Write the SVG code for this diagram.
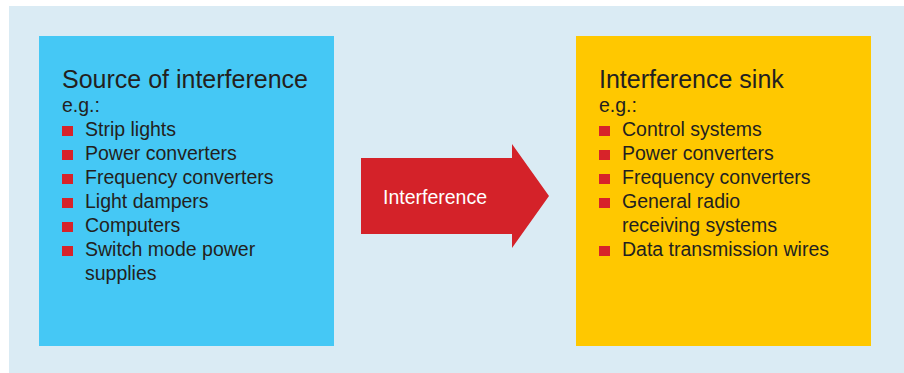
<svg xmlns="http://www.w3.org/2000/svg" width="904" height="373" viewBox="0 0 904 373">
<style>
.t{font-family:"Liberation Sans",Arial,sans-serif;fill:#231f20}
.h{font-size:25px}
.i{font-size:19.5px}
.b{fill:#d7232a}
</style>
<rect x="0" y="0" width="904" height="373" fill="#ffffff"/>
<rect x="9" y="6" width="895" height="367" fill="#daebf4"/>
<g id="source">
<rect x="39" y="36" width="295" height="310" fill="#45c8f5"/>
<text class="t h" x="62" y="88">Source of interference</text>
<text class="t i" x="62" y="112">e.g.:</text>
<rect class="b" x="62" y="126" width="11" height="10"/>
<rect class="b" x="62" y="150" width="11" height="10"/>
<rect class="b" x="62" y="174" width="11" height="10"/>
<rect class="b" x="62" y="198" width="11" height="10"/>
<rect class="b" x="62" y="222" width="11" height="10"/>
<rect class="b" x="62" y="246" width="11" height="10"/>
<text class="t i" x="85" y="136">Strip lights</text>
<text class="t i" x="85" y="160">Power converters</text>
<text class="t i" x="85" y="184">Frequency converters</text>
<text class="t i" x="85" y="208">Light dampers</text>
<text class="t i" x="85" y="232">Computers</text>
<text class="t i" x="85" y="256">Switch mode power</text>
<text class="t i" x="85" y="280">supplies</text>
</g>
<g id="connectors">
<g id="interference">
<polygon points="361,158 512,158 512,144 549,196 512,248 512,234 361,234" fill="#d42229"/>
<text x="383" y="204" style="font-family:'Liberation Sans',Arial,sans-serif;font-size:19.5px;fill:#ffffff">Interference</text>
</g>
</g>
<g id="sink">
<rect x="576" y="36" width="295" height="310" fill="#ffc800"/>
<text class="t h" x="599" y="88">Interference sink</text>
<text class="t i" x="599" y="112">e.g.:</text>
<rect class="b" x="599" y="126" width="11" height="10"/>
<rect class="b" x="599" y="150" width="11" height="10"/>
<rect class="b" x="599" y="174" width="11" height="10"/>
<rect class="b" x="599" y="198" width="11" height="10"/>
<rect class="b" x="599" y="246" width="11" height="10"/>
<text class="t i" x="622" y="136">Control systems</text>
<text class="t i" x="622" y="160">Power converters</text>
<text class="t i" x="622" y="184">Frequency converters</text>
<text class="t i" x="622" y="208">General radio</text>
<text class="t i" x="622" y="232">receiving systems</text>
<text class="t i" x="622" y="256">Data transmission wires</text>
</g>
</svg>
